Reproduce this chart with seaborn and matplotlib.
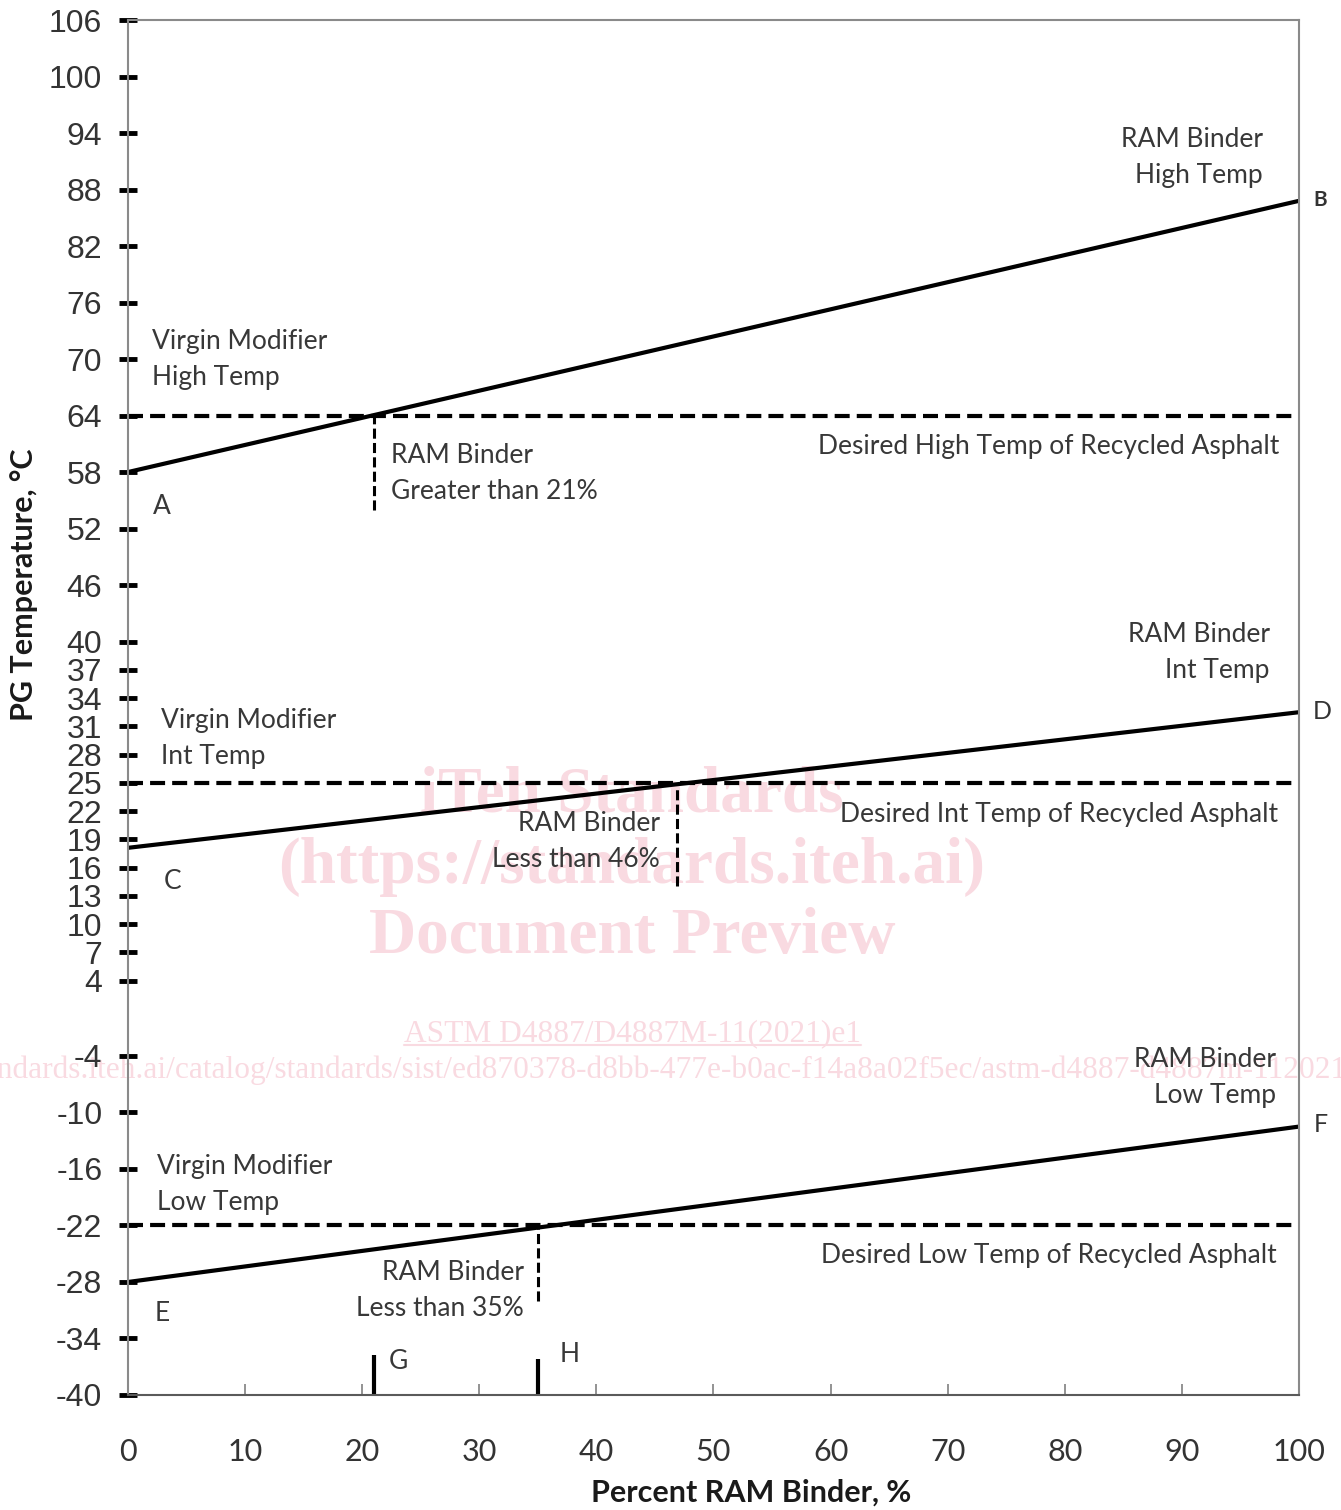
import matplotlib
matplotlib.use('Agg')
import matplotlib.pyplot as plt
import seaborn as sns
import pandas as pd
from matplotlib.lines import Line2D

# blend lines: PG temperature of the blend at 0% and 100% RAM binder
pct_ends = [0, 100]
high_line = [58, 86.8]
int_line = [18.1, 32.5]
low_line = [-28, -11.5]

# desired grade of the recycled asphalt and where each blend line meets it
desired_temps = [64, 25, -22]
cross_pct = [21, 46.9, 35]
drop_to = [54, 14, -30]

# G / H marks on the x axis
marks_pct = [21, 35]
marks_top = [-35.8, -36.2]
mark_names = ['G', 'H']

y_ticks = [106, 100, 94, 88, 82, 76, 70, 64, 58, 52, 46, 40, 37, 34, 31, 28,
           25, 22, 19, 16, 13, 10, 7, 4, -4, -10, -16, -22, -28, -34, -40]
x_ticks = [0, 10, 20, 30, 40, 50, 60, 70, 80, 90, 100]

df = pd.DataFrame({
    'pct': pct_ends * 3,
    'temp': high_line + int_line + low_line,
    'grade': ['high'] * 2 + ['int'] * 2 + ['low'] * 2,
})

sns.set_style('white')
plt.rcParams['font.family'] = ['Lato', 'DejaVu Sans']

fig = plt.figure(figsize=(13.41, 15.10), dpi=100)
ax = fig.add_axes([0.09545, 0.07616, 0.87323, 0.91059])
ax.patch.set_alpha(0)

# watermark of the document preview, behind the chart
pink = '#f9dae1'
serif = ['Liberation Serif', 'DejaVu Serif']
wm_kw = dict(ha='center', va='baseline', color=pink, zorder=-5, family=serif)
fig.text(0.4713, 1 - 812 / 1510, 'iTeh Standards', fontsize=47, weight='bold', **wm_kw)
fig.text(0.4713, 1 - 883 / 1510, '(https://standards.iteh.ai)', fontsize=47, weight='bold', **wm_kw)
fig.text(0.4713, 1 - 953 / 1510, 'Document Preview', fontsize=47, weight='bold', **wm_kw)
astm = fig.text(0.4713, 1 - 1041 / 1510, 'ASTM D4887/D4887M-11(2021)e1', fontsize=22.6, **wm_kw)
fig.text(-124 / 1341, 1 - 1078 / 1510,
         'https://standards.iteh.ai/catalog/standards/sist/ed870378-d8bb-477e-b0ac-f14a8a02f5ec/astm-d4887-d4887m-112021',
         fontsize=22.6, ha='left', va='baseline', color=pink, zorder=-5, family=serif)

sns.lineplot(data=df, x='pct', y='temp', units='grade', estimator=None,
             color='black', linewidth=3.0, ax=ax, legend=False)

ax.hlines(desired_temps, 0, 100, colors='black', linewidth=3.0,
          linestyles=(0, (3.6, 1.7)))
ax.vlines(cross_pct, drop_to, desired_temps, colors='black', linewidth=2.2,
          linestyles=(0, (3.3, 1.4)))
ax.vlines(marks_pct, -40, marks_top, colors='black', linewidth=3.0, clip_on=False)

ax.set_xlim(0, 100)
ax.set_ylim(-40, 106)
ax.set_xticks(x_ticks)
ax.set_yticks(y_ticks)
ax.set_yticklabels([str(v) for v in y_ticks])

for side in ['left', 'top', 'right']:
    ax.spines[side].set_color('#8a8a8a')
    ax.spines[side].set_linewidth(1.5)
ax.spines['bottom'].set_color('#5a5a5a')
ax.spines['bottom'].set_linewidth(1.5)

ax.tick_params(axis='y', direction='inout', length=13, width=3.5, color='black',
               pad=12, labelsize=23, labelcolor='#333333', left=True)
ax.tick_params(axis='x', direction='in', length=8, width=1.2, color='#808080',
               pad=31, labelsize=22, labelcolor='#333333', bottom=True)
for lab in ax.get_yticklabels():
    lab.set_fontfamily(['Liberation Sans', 'DejaVu Sans'])

ax.set_xlabel('Percent RAM Binder, %', fontsize=22, weight='bold', color='#1a1a1a')
ax.set_ylabel('PG Temperature, °C', fontsize=22, weight='bold', color='#1a1a1a')
ax.xaxis.set_label_coords(0.532, -0.061)
ax.yaxis.set_label_coords(-0.077, 0.589)

txt_kw = dict(fontsize=19, color='#383838', va='center', linespacing=1.55)
notes = [
    (96.9, 91.4, 'RAM Binder\nHigh Temp', 'right'),
    (2.05, 69.9, 'Virgin Modifier\nHigh Temp', 'left'),
    (98.3, 60.7, 'Desired High Temp of Recycled Asphalt', 'right'),
    (22.5, 57.8, 'RAM Binder\nGreater than 21%', 'left'),
    (2.9, 54.3, 'A', 'center'),
    (97.5, 38.85, 'RAM Binder\nInt Temp', 'right'),
    (2.8, 29.7, 'Virgin Modifier\nInt Temp', 'left'),
    (98.2, 21.6, 'Desired Int Temp of Recycled Asphalt', 'right'),
    (45.4, 18.8, 'RAM Binder\nLess than 46%', 'right'),
    (3.8, 14.5, 'C', 'center'),
    (98.0, -6.3, 'RAM Binder\nLow Temp', 'right'),
    (2.5, -17.7, 'Virgin Modifier\nLow Temp', 'left'),
    (98.1, -25.2, 'Desired Low Temp of Recycled Asphalt', 'right'),
    (33.8, -28.9, 'RAM Binder\nLess than 35%', 'right'),
    (2.9, -31.3, 'E', 'center'),
]
for x, y, s, ha in notes:
    ax.text(x, y, s, ha=ha, multialignment=ha, **txt_kw)

for x, name, y in zip(marks_pct, mark_names, [-36.4, -35.7]):
    ax.text(x + 2.1 if name == 'G' else x + 2.7, y, name, ha='center', **txt_kw)

ax.text(101.8, 86.9, 'B', ha='center', va='center', fontsize=15, weight='bold', color='#333333')
ax.text(102.0, 32.6, 'D', ha='center', va='center', fontsize=18, color='#333333')
ax.text(101.9, -11.3, 'F', ha='center', va='center', fontsize=18, color='#333333')

# underline the standard's designation like the link in the preview
fig.canvas.draw()
bb = astm.get_window_extent().transformed(fig.transFigure.inverted())
uy = 1 - 1045 / 1510
fig.add_artist(Line2D([bb.x0, bb.x1], [uy, uy], color=pink, linewidth=1.5, zorder=-5))

fig.savefig('out.png', dpi=100)
